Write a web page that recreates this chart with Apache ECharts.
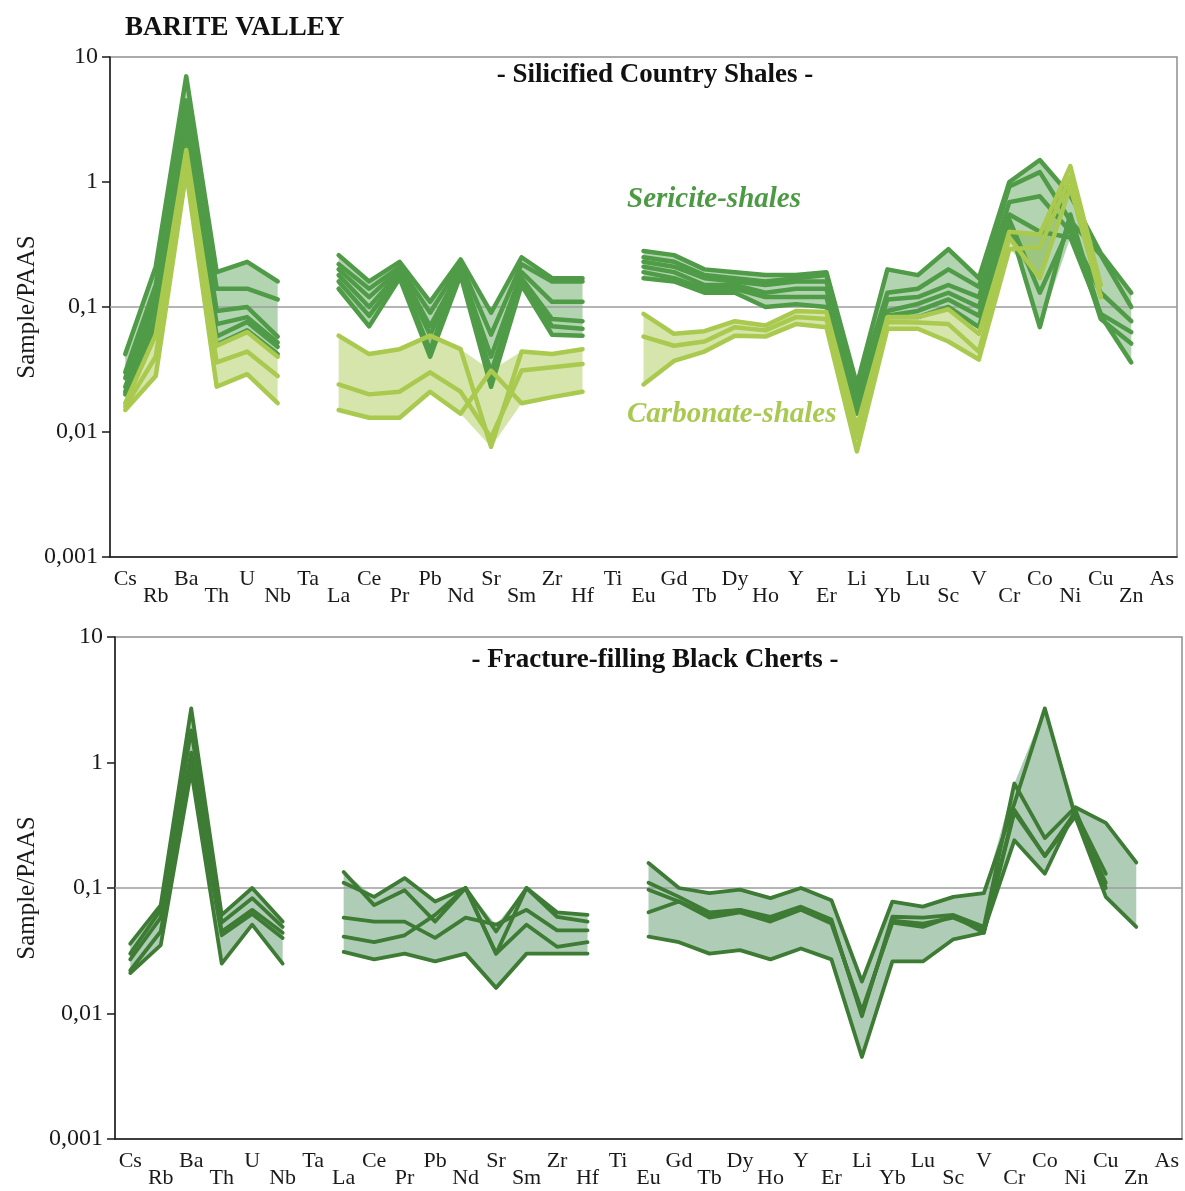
<!DOCTYPE html>
<html>
<head>
<meta charset="utf-8">
<title>Barite Valley – Sample/PAAS</title>
<script src="https://cdn.jsdelivr.net/npm/echarts/dist/echarts.min.js"></script>
<style>
  html, body { margin: 0; padding: 0; background: #ffffff; }
  #chart { width: 1185px; height: 1191px; }
</style>
</head>
<body>
<div id="chart"></div>
<script>
// Element order along the x axis
const elements = ['Cs','Rb','Ba','Th','U','Nb','Ta','La','Ce','Pr','Pb','Nd','Sr','Sm','Zr','Hf','Ti',
  'Eu','Gd','Tb','Dy','Ho','Y','Er','Li','Yb','Lu','Sc','V','Cr','Co','Ni','Cu','Zn','As'];

// Log-axis tick labels (decimal comma), from 0.001 up to 10
const tickLabels = ['0,001', '0,01', '0,1', '1', '10'];

// Silicified country shales – sericite-shales (Sample/PAAS)
//                 Cs    Rb    Ba   Th    U     Nb    Ta    La   Ce    Pr   Pb    Nd   Sr    Sm   Zr    Hf    Ti    Eu   Gd   Tb   Dy   Ho   Y     Er   Li    Yb    Lu    Sc    V     Cr   Co    Ni   Cu    Zn    As
const sericite1 = [0.042,0.21, 7.0, 0.19, 0.23, 0.16, null, 0.26,0.16, 0.23,0.11, 0.24,0.09, 0.25,0.17, 0.17, null, 0.28,0.26,0.20,0.19,0.18,0.18, 0.19,0.024,0.20, 0.18, 0.29, 0.17, 1.0, 1.5,  0.78,0.27, 0.13, null];
const sericite2 = [0.030,0.15, 4.5, 0.14, 0.14, 0.115,null, 0.22,0.14, 0.21,0.09, 0.22,0.06, 0.22,0.16, 0.16, null, 0.25,0.23,0.18,0.17,0.16,0.17, 0.18,0.021,0.13, 0.14, 0.20, 0.145,0.92,1.2,  0.49,0.26, 0.10, null];
const sericite3 = [0.027,0.12, 3.5, 0.093,0.10, 0.058,null, 0.20,0.12, 0.20,0.07, 0.20,0.04, 0.19,0.11, 0.11, null, 0.23,0.21,0.17,0.16,0.15,0.16, 0.16,0.019,0.115,0.12, 0.15, 0.12, 0.69,0.77, 0.40,0.13, 0.077,null];
const sericite4 = [0.023,0.10, 2.6, 0.073,0.083,0.052,null, 0.18,0.10, 0.19,0.06, 0.19,0.03, 0.17,0.08, 0.077,null, 0.21,0.19,0.15,0.15,0.13,0.14, 0.14,0.017,0.093,0.106,0.13, 0.10, 0.55,0.40, 0.36,0.088,0.063,null];
const sericite5 = [0.021,0.08, 2.3, 0.058,0.076,0.048,null, 0.16,0.085,0.18,0.045,0.21,0.025,0.16,0.07, 0.067,null, 0.19,0.17,0.14,0.14,0.12,0.12, 0.12,0.015,0.085,0.093,0.115,0.085,0.50,0.13, 0.45,0.080,0.051,null];
const sericite6 = [0.020,0.07, 2.0, 0.050,0.065,0.042,null, 0.14,0.07, 0.17,0.04, 0.18,0.023,0.15,0.06, 0.059,null, 0.17,0.16,0.13,0.13,0.10,0.105,0.10,0.014,0.083,0.083,0.10, 0.069,0.45,0.069,0.55,0.085,0.036,null];

// Silicified country shales – carbonate-shales (Sample/PAAS)
const carbonate1 = [0.017,0.060,1.8, 0.049,0.063,0.040,null, 0.059,0.042,0.046,0.059,0.046,0.0076,0.044,0.042,0.046,null, 0.088,0.061,0.064,0.077,0.071,0.093,0.091,0.011,0.083,0.083,0.096,0.061,0.40,0.38,1.34,0.15,null,null];
const carbonate2 = [0.016,0.040,1.5, 0.036,0.044,0.028,null, 0.024,0.020,0.021,0.030,0.021,0.009, 0.031,0.033,0.035,null, 0.058,0.049,0.053,0.069,0.065,0.083,0.080,0.009,0.076,0.075,0.073,0.044,0.36,0.17,0.91,0.12,null,null];
const carbonate3 = [0.015,0.028,1.2, 0.023,0.029,0.017,null, 0.015,0.013,0.013,0.021,0.014,0.031, 0.017,0.019,0.021,null, 0.024,0.037,0.044,0.059,0.058,0.073,0.069,0.007,0.067,0.067,0.053,0.038,0.29,0.30,1.10,0.12,null,null];

// Fracture-filling black cherts (Sample/PAAS)
const chert1 = [0.036,0.073,2.7, 0.061,0.10, 0.054,null, 0.134,0.073,0.096,0.054,0.10, 0.030,0.10, 0.059,0.054,null, 0.158,0.10, 0.091,0.097,0.083,0.10, 0.080,0.018, 0.078,0.071,0.085,0.091,0.47,2.7, 0.37,0.085,0.049,null];
const chert2 = [0.030,0.067,1.8, 0.053,0.083,0.049,null, 0.11, 0.085,0.12, 0.078,0.10, 0.045,0.10, 0.064,0.061,null, 0.11, 0.085,0.064,0.067,0.059,0.071,0.056,0.0095,0.059,0.058,0.061,0.049,0.68,0.25,0.44,0.33, 0.16, null];
const chert3 = [0.027,0.058,1.2, 0.045,0.067,0.044,null, 0.058,0.054,0.054,0.040,0.058,0.051,0.067,0.046,0.046,null, 0.097,0.078,0.058,0.064,0.054,0.067,0.052,0.0105,0.053,0.049,0.060,0.044,0.42,0.18,0.40,0.13, null, null];
const chert4 = [0.022,0.045,1.0, 0.042,0.062,0.040,null, 0.041,0.037,0.042,0.061,0.10, 0.030,0.051,0.034,0.037,null, 0.064,0.078,0.061,0.067,0.056,0.069,0.054,0.010, 0.055,0.052,0.058,0.046,0.24,0.13,0.42,0.10, null, null];
const chert5 = [0.021,0.035,0.86,0.025,0.051,0.025,null, 0.031,0.027,0.030,0.026,0.030,0.016,0.030,0.030,0.030,null, 0.041,0.037,0.030,0.032,0.027,0.033,0.027,0.0045,0.026,0.026,0.039,0.044,0.40,0.18,0.37,0.11, null, null];

const sericiteShales = [sericite1, sericite2, sericite3, sericite4, sericite5, sericite6];
const carbonateShales = [carbonate1, carbonate2, carbonate3];
const blackCherts = [chert1, chert2, chert3, chert4, chert5];

// Continuous element runs (index ranges) used for the shaded envelopes
const segments = [[0, 5], [7, 15], [17, 33]];

const FONT = '"Liberation Serif", "DejaVu Serif", serif';
const INK = '#1a1a1a';

const chart = echarts.init(document.getElementById('chart'), null, { renderer: 'canvas' });

function xAxisFor(gi) {
  return {
    type: 'category', gridIndex: gi, data: elements, boundaryGap: true,
    axisLine: { lineStyle: { color: INK, width: 1.5 } },
    axisTick: { length: 8, lineStyle: { color: INK, width: 1.5 } },
    axisLabel: {
      interval: 0, margin: 11, color: INK, fontFamily: FONT, fontSize: 22,
      formatter: (v, i) => (i % 2 ? '{lo|' + v + '}' : '{hi|' + v + '}'),
      rich: {
        hi: { fontFamily: FONT, fontSize: 22, color: INK },
        lo: { fontFamily: FONT, fontSize: 22, color: INK, padding: [17, 0, 0, 0] }
      }
    },
    splitLine: { show: false }
  };
}

function yAxisFor(gi, gap) {
  return {
    type: 'log', logBase: 10, gridIndex: gi, min: 0.001, max: 10,
    name: 'Sample/PAAS', nameLocation: 'middle', nameGap: gap, nameMoveOverlap: false,
    nameTextStyle: { fontFamily: FONT, fontSize: 25, color: INK },
    axisLine: { show: true, lineStyle: { color: INK, width: 1.5 } },
    axisTick: { show: true, length: 8, lineStyle: { color: INK, width: 1.5 } },
    axisLabel: {
      margin: 12, fontFamily: FONT, fontSize: 24, color: INK,
      formatter: v => tickLabels[Math.round(Math.log10(v)) + 3]
    },
    splitLine: { show: false }
  };
}

function lineSeries(data, gi, color, width, z) {
  return {
    type: 'line', data, xAxisIndex: gi, yAxisIndex: gi,
    symbol: 'none', connectNulls: false, silent: true, animation: false, z,
    lineStyle: { color, width, join: 'round', cap: 'round' }
  };
}

// Shaded envelope between the lowest and highest sample of a group
function bandSeries(lines, gi, fill, z) {
  return {
    type: 'custom', xAxisIndex: gi, yAxisIndex: gi, silent: true, animation: false, z,
    data: segments.map(s => [s[0], 0.1]),
    encode: { x: 0, y: 1 },
    renderItem(params, api) {
      const seg = segments[params.dataIndex];
      const upper = [], lower = [];
      for (let c = seg[0]; c <= seg[1]; c++) {
        const vals = lines.map(l => l[c]).filter(v => v != null);
        if (!vals.length) continue;
        upper.push(api.coord([c, Math.max.apply(null, vals)]));
        lower.unshift(api.coord([c, Math.min.apply(null, vals)]));
      }
      return { type: 'polygon', shape: { points: upper.concat(lower) }, style: { fill } };
    }
  };
}

// Horizontal reference line at Sample/PAAS = 0.1 across the whole plot
function refLine(gi, value) {
  return {
    type: 'custom', xAxisIndex: gi, yAxisIndex: gi, silent: true, animation: false, z: 3,
    data: [[0, value]], encode: { x: 0, y: 1 },
    renderItem(params, api) {
      const cs = params.coordSys;
      const y = api.coord([0, value])[1];
      return {
        type: 'line',
        shape: { x1: cs.x, y1: y, x2: cs.x + cs.width, y2: y },
        style: { stroke: '#9c9c9c', lineWidth: 1.5 }
      };
    }
  };
}

const SER_LINE = '#4f9b47', SER_FILL = 'rgba(79,155,71,0.43)';
const CARB_LINE = '#a9c94f', CARB_FILL = 'rgba(169,201,79,0.48)';
const CHERT_LINE = '#3e7b35', CHERT_FILL = '#afcdb6';

const series = [
  bandSeries(carbonateShales, 0, CARB_FILL, 1),
  bandSeries(sericiteShales, 0, SER_FILL, 2),
  refLine(0, 0.1),
  ...sericiteShales.map(d => lineSeries(d, 0, SER_LINE, 4.5, 4)),
  ...carbonateShales.map(d => lineSeries(d, 0, CARB_LINE, 4.5, 5)),
  bandSeries(blackCherts, 1, CHERT_FILL, 1),
  refLine(1, 0.1),
  ...blackCherts.map(d => lineSeries(d, 1, CHERT_LINE, 3.8, 4))
];

const gridStyle = { show: true, borderColor: '#8f8f8f', borderWidth: 1.5, backgroundColor: 'transparent' };

chart.setOption({
  animation: false,
  backgroundColor: '#ffffff',
  grid: [
    Object.assign({ left: 110, right: 8, top: 57, height: 500 }, gridStyle),
    Object.assign({ left: 115, right: 3, top: 637, height: 502 }, gridStyle)
  ],
  xAxis: [xAxisFor(0), xAxisFor(1)],
  yAxis: [yAxisFor(0, 70), yAxisFor(1, 75)],
  series,
  graphic: [
    { type: 'text', x: 125, y: 28, silent: true,
      style: { text: 'BARITE VALLEY', font: 'bold 27px ' + FONT, fill: '#111', verticalAlign: 'middle' } },
    { type: 'text', x: 655, y: 75, silent: true, z: 10,
      style: { text: '- Silicified Country Shales -', font: 'bold 27px ' + FONT, fill: '#111', align: 'center', verticalAlign: 'middle' } },
    { type: 'text', x: 627, y: 200, silent: true, z: 10,
      style: { text: 'Sericite-shales', font: 'italic bold 29px ' + FONT, fill: '#4d9a45', verticalAlign: 'middle' } },
    { type: 'text', x: 627, y: 415, silent: true, z: 10,
      style: { text: 'Carbonate-shales', font: 'italic bold 29px ' + FONT, fill: '#a9c951', verticalAlign: 'middle' } },
    { type: 'text', x: 655, y: 660, silent: true, z: 10,
      style: { text: '- Fracture-filling Black Cherts -', font: 'bold 27px ' + FONT, fill: '#111', align: 'center', verticalAlign: 'middle' } }
  ]
});
</script>
</body>
</html>
